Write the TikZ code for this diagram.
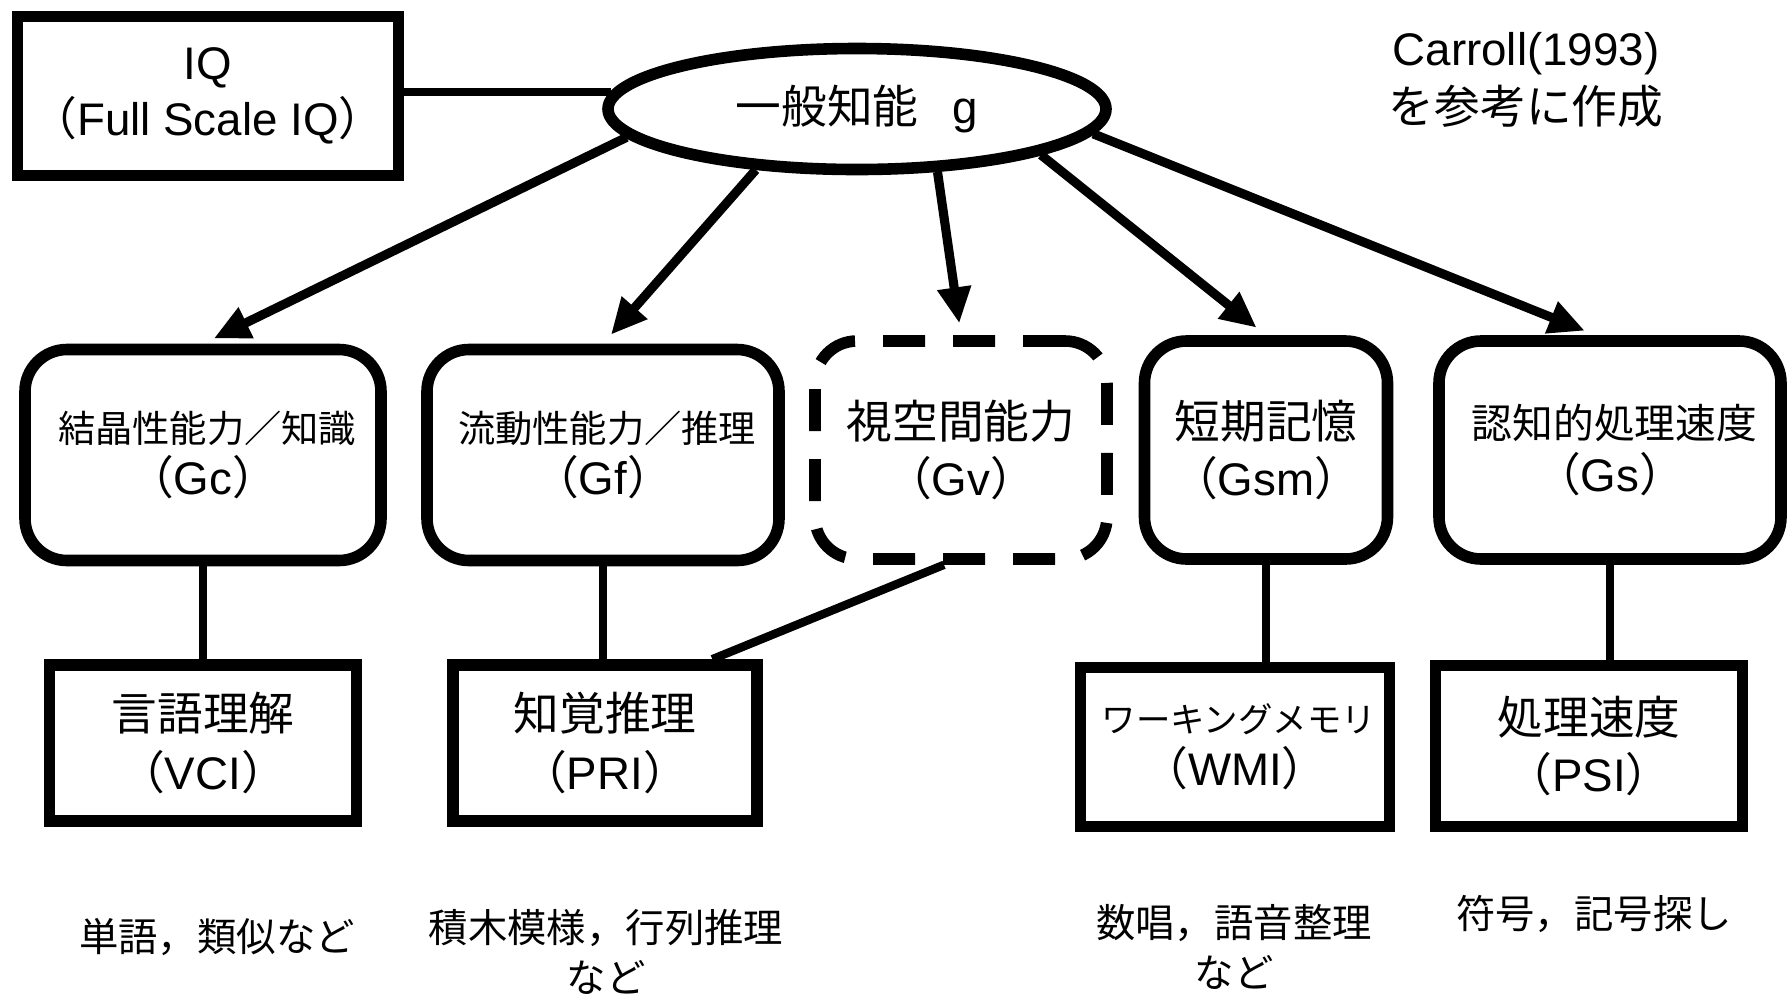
\documentclass[tikz,border=0pt]{standalone}
\usepackage{fontspec}
\setmainfont{Liberation Sans}
\newfontfamily\jp{Noto Sans CJK JP}
\usetikzlibrary{arrows.meta,calc,shapes.geometric}
\newcommand{\abbrv}[1]{{\jp （}#1{\jp ）}}
\newcommand{\jsize}[1]{\jp\fontsize{#1}{13}\selectfont}

\begin{document}
\begin{tikzpicture}[
        font=\fontsize{13}{15}\selectfont,
        box/.style={draw, line width=3.3pt, fill=white, align=center, inner sep=0pt},
        ability/.style={box, rounded corners=0.42cm},
        link/.style={line width=2.4pt},
        arr/.style={line width=2.6pt, -{Triangle[length=0.36cm,width=0.32cm]}, shorten >=0.12cm},
        note/.style={align=center, font=\fontsize{11.2}{14}\selectfont\jp}
    ]
        \useasboundingbox (0,0) rectangle (17.92,-9.95);

        % General intelligence
        \node[box, minimum width=3.81cm, minimum height=1.59cm] (IQ) at (2.08,-0.96) {IQ\\[1pt]\abbrv{Full Scale IQ}};
        \node[box, ellipse, minimum width=4.98cm, minimum height=1.21cm] (g) at (8.57,-1.09) {{\jp 一般知能}\hspace{0.75em}g};
        \node[align=center, font=\fontsize{13}{15.6}\selectfont] (src) at (15.26,-0.80) {Carroll(1993)\\[1pt]{\jp を参考に作成}};

        % Broad abilities
        \node[ability, minimum width=3.56cm, minimum height=2.11cm] (Gc) at (2.03,-4.55) {{\jsize{10.6} 結晶性能力／知識}\\\abbrv{Gc}};
        \node[ability, minimum width=3.52cm, minimum height=2.11cm] (Gf) at (6.03,-4.55) {{\jsize{10.6} 流動性能力／推理}\\\abbrv{Gf}};
        \node[ability, dash pattern=on 0.42cm off 0.28cm, minimum width=2.92cm, minimum height=2.18cm] (Gv) at (9.61,-4.50) {{\jp 視空間能力}\\[1pt]\abbrv{Gv}};
        \node[ability, minimum width=2.43cm, minimum height=2.18cm] (Gsm) at (12.66,-4.50) {{\jp 短期記憶}\\[1pt]\abbrv{Gsm}};
        \node[ability, minimum width=3.42cm, minimum height=2.18cm] (Gs) at (16.10,-4.50) {{\jsize{11.6} 認知的処理速度}\\\abbrv{Gs}};

        % WISC indexes
        \node[box, minimum width=3.07cm, minimum height=1.56cm] (VCI) at (2.03,-7.43) {{\jp 言語理解}\\[2pt]\abbrv{VCI}};
        \node[box, minimum width=3.04cm, minimum height=1.56cm] (PRI) at (6.05,-7.43) {{\jp 知覚推理}\\[2pt]\abbrv{PRI}};
        \node[box, minimum width=3.09cm, minimum height=1.59cm] (WMI) at (12.35,-7.47) {{\jsize{9.8} ワーキングメモリ}\\\abbrv{WMI}};
        \node[box, minimum width=3.07cm, minimum height=1.61cm] (PSI) at (15.89,-7.46) {{\jp 処理速度}\\[1pt]\abbrv{PSI}};

        % Subtests
        \node[note] (VCIsub) at (2.17,-9.37) {単語，類似など};
        \node[note] (PRIsub) at (6.06,-9.52) {積木模様，行列推理\\など};
        \node[note] (WMIsub) at (12.34,-9.47) {数唱，語音整理\\など};
        \node[note] (PSIsub) at (15.94,-9.14) {符号，記号探し};

        % Connectors
        \draw[link] (IQ.east |- g.176) -- (g.176);
        \draw[arr] (g.187) -- (Gc.north);
        \draw[arr] (g.211) -- (Gf.north);
        \draw[arr] (g.322) -- (Gv.north);
        \draw[arr] (g.346) -- (Gsm.north);
        \draw[arr] (g.354) -- ([xshift=-0.14cm]Gs.north);
        \foreach \up/\down in {Gc/VCI, Gf/PRI, Gsm/WMI, Gs/PSI} {
            \draw[link] (\up.south) -- (\up.south |- \down.north);
        }
        \draw[link] ([xshift=-0.17cm]Gv.south) -- ($(PRI.north)!0.68!(PRI.north east)$);
    \end{tikzpicture}
\end{document}
